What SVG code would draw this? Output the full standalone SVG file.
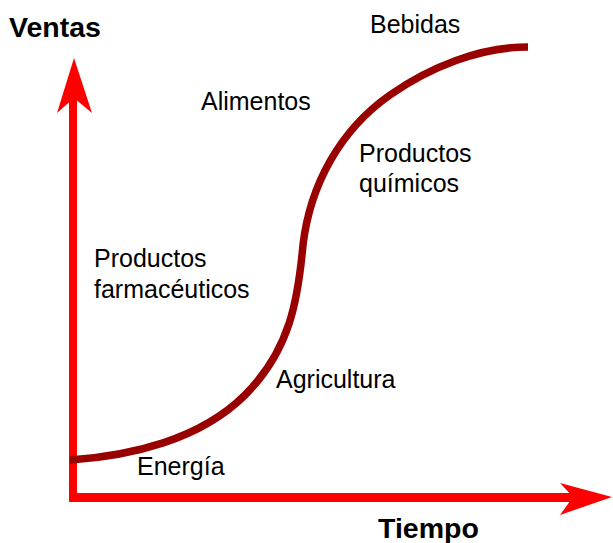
<svg xmlns="http://www.w3.org/2000/svg" width="613" height="543" viewBox="0 0 613 543">
<style>
.lbl{font-family:"Liberation Sans",Arial,sans-serif;font-size:25px;fill:#000}
.ax{font-family:"Liberation Sans",Arial,sans-serif;font-size:28.5px;font-weight:bold;fill:#000}
.axis{fill:#ff0000}
</style>
<rect width="613" height="543" fill="#fff"/>
<g id="connectors">
<g id="y-axis">
<rect class="axis" x="69" y="95" width="8" height="407"/>
<polygon class="axis" points="74,58 92,113 74,98 57,113"/>
</g>
<g id="x-axis">
<rect class="axis" x="69" y="493" width="507" height="9"/>
<polygon class="axis" points="612,497 560,483 573,497 560,515"/>
</g>
<path id="curve" d="M70,460 C130,456 200,440 245,395 C290,350 298,300 303,245 C310,185 340,130 390,95 C430,67 480,47 528,47" fill="none" stroke="#990000" stroke-width="7.5"/>
</g>
<g id="ventas"><text class="ax" x="9" y="37">Ventas</text></g>
<g id="tiempo"><text class="ax" x="378" y="538">Tiempo</text></g>
<g id="bebidas"><text class="lbl" x="370" y="33">Bebidas</text></g>
<g id="alimentos"><text class="lbl" x="201" y="110">Alimentos</text></g>
<g id="quimicos"><text class="lbl" x="359" y="162">Productos</text><text class="lbl" x="359" y="192">químicos</text></g>
<g id="farmaceuticos"><text class="lbl" x="94" y="267">Productos</text><text class="lbl" x="94" y="298">farmacéuticos</text></g>
<g id="agricultura"><text class="lbl" x="276" y="388">Agricultura</text></g>
<g id="energia"><text class="lbl" x="137" y="475">Energía</text></g>
</svg>
